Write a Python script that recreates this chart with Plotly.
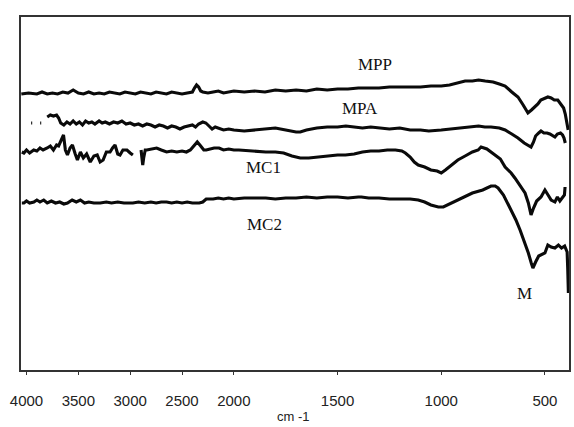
import plotly.graph_objects as go

# ---- data (wavenumber cm-1, relative transmittance, arbitrary offset units) ----
mpp_wn = [4050,3980,3900,3850,3800,3750,3700,3650,3600,3550,3500,3450,3400,3350,3300,3250,3200,3150,3100,3050,
          3000,2950,2900,2850,2800,2750,2700,2650,2600,2550,2500,2450,2400,2380,2360,2340,2320,2300,2250,2200,
          2150,2100,2050,2000,1950,1900,1850,1800,1750,1700,1650,1600,1550,1500,1450,1400,1350,1300,1250,1200,
          1150,1100,1050,1000,960,920,885,850,820,788,750,720,692,660,630,605,582,565,545,534,520,500,486,470,
          455,438,423,410,402,395,388]
mpp_t = [276,277,276,278,276,277,276,278,277,280,277,276,278,276,277,276,278,277,276,278,
         277,276,278,277,276,278,277,276,278,277,276,277,278,282,285,283,279,278,277,278,
         279,277,278,279,278,279,278,280,279,280,279,281,280,281,281,282,282,282,283,283,
         283,283,284,284,285,287,289,289,290,289,288,286,284,278,273,265,257,260,264,266,
         270,272,273,272,270,270,266,262,256,248,240]

mpa_dots_wn = [[3955, 3945], [3868, 3858]]
mpa_dots_t = [[247, 247], [247, 247]]

mpa_wn = [3800,3770,3740,3710,3690,3670,3640,3610,3580,3550,3520,3490,3460,3430,3400,3370,3340,3300,3270,3240,
          3200,3160,3120,3080,3040,3000,2960,2920,2880,2840,2800,2760,2720,2680,2640,2600,2560,2520,2480,2440,
          2400,2370,2340,2300,2270,2240,2210,2180,2150,2100,2050,2000,1950,1900,1850,1800,1750,1700,1680,1650,
          1600,1550,1500,1460,1420,1380,1340,1300,1250,1200,1150,1100,1060,1000,950,900,860,820,790,760,
          720,692,660,630,600,585,567,555,545,530,519,505,490,476,462,452,440,425,415,408,402]
mpa_t = [253,255,254,255,252,247,245,248,246,249,246,248,245,249,247,248,246,249,247,248,
         246,248,247,249,246,247,245,246,244,246,245,243,245,244,242,244,243,241,243,244,
         245,243,246,248,247,244,241,243,242,240,241,240,239,240,241,242,240,238,238,240,
         242,243,243,244,243,242,243,242,241,242,240,240,239,240,241,242,243,244,243,243,
         242,240,236,232,227,225,223,228,234,237,239,237,237,236,234,233,236,237,235,232,227]

mc1_wn = [4045,4025,4000,3970,3930,3900,3870,3840,3800,3770,3740,3710,3690,3660,3643,3625,3605,3580,3557,3530,
          3509,3480,3452,3420,3385,3350,3318,3290,3261,3230,3194,3170,3146,3120,3098,3070,3031,3000,2974,None,
          2895,2885,2879,2870,2855,2840,2800,2745,2700,2649,2600,2550,2500,2458,2420,2390,2353,2320,2290,2267,
          2230,2190,2143,2100,2050,2000,1976,1920,1880,1846,1800,1760,1720,1680,1639,1600,1550,1500,1462,1420,
          1380,1340,1300,1260,1221,1190,1173,1150,1130,1111,1080,1050,1020,1000,980,952,920,885,850,822,
          808,780,760,740,715,692,663,645,630,610,596,580,567,555,540,519,500,485,470,452,
          440,428,413,406,403]
mc1_t = [218,217,220,217,220,219,222,220,222,224,220,225,224,230,235,220,215,222,225,216,
         210,218,212,216,208,214,215,208,210,218,218,222,225,216,215,220,220,217,215,None,
         220,212,205,212,220,220,221,222,220,218,219,218,219,218,220,224,228,224,220,220,
         221,222,222,220,221,220,220,219,218,218,218,217,214,212,212,213,214,215,215,216,
         218,219,219,220,220,219,217,213,208,205,203,200,199,197,200,205,210,214,218,220,
         223,221,218,215,211,203,197,192,187,181,177,167,155,162,169,173,180,175,170,168,
         173,169,173,175,183]

mc2_wn = [4045,4025,4000,3970,3929,3900,3870,3834,3800,3760,3720,3680,3640,3605,3560,3520,3480,3440,3400,3350,
          3289,3230,3180,3120,3060,3000,2974,2920,2860,2800,2750,2700,2649,2600,2550,2500,2450,2400,2334,2300,
          2280,2267,2200,2150,2100,2050,2000,1950,1900,1846,1800,1750,1700,1650,1600,1550,1500,1450,1400,1385,
          1350,1300,1250,1200,1150,1111,1080,1050,1014,990,960,920,885,850,800,760,740,726,700,680,
          663,640,620,596,580,566,558,545,530,500,486,470,452,435,420,405,399,393,390,387]
mc2_t = [167,167,169,167,168,170,168,170,167,169,167,168,166,167,170,168,170,167,168,167,
         167,168,167,168,167,167,167,168,167,168,167,168,168,167,168,167,168,167,167,168,
         170,171,171,172,171,172,171,172,172,172,171,172,172,173,172,173,173,172,173,173,
         172,172,171,171,171,170,168,165,163,163,166,170,173,177,180,184,184,182,175,167,
         160,150,140,127,117,107,102,108,114,117,125,123,122,125,122,124,120,118,100,77]

label_names = ["MPP", "MPA", "MC1", "MC2", "M"]
label_wn = [1320, 1392, 1855, 1850, 600]
label_t = [306, 262, 203, 146, 77]

tick_wn = [4000, 3500, 3000, 2500, 2000, 1500, 1000, 500]
tick_text = ["4000", "3500", "3000", "2500", "2000", "1500", "1000", "500"]
x_limits = [4053, 384]
axis_title = "cm -1"


# FTIR chart uses a compressed scale above 2000 cm-1 (half the spacing)
def scale(w):
    if w is None:
        return None
    return w if w <= 2000 else 2000 + (w - 2000) / 2


def sc(arr):
    return [scale(w) for w in arr]


fig = go.Figure()
line_style = dict(color="#0a0a0a", width=3.1)

for xs, ys in [(mpp_wn, mpp_t), (mpa_wn, mpa_t), (mc1_wn, mc1_t), (mc2_wn, mc2_t)]:
    fig.add_trace(go.Scatter(x=sc(xs), y=ys, mode="lines", line=line_style,
                             connectgaps=False, showlegend=False, hoverinfo="skip"))
for xs, ys in zip(mpa_dots_wn, mpa_dots_t):
    fig.add_trace(go.Scatter(x=sc(xs), y=ys, mode="lines", line=line_style,
                             showlegend=False, hoverinfo="skip"))

for name, w, t in zip(label_names, label_wn, label_t):
    fig.add_annotation(x=scale(w), y=t, text=name, showarrow=False,
                       font=dict(family="Liberation Serif, Times New Roman, serif", size=17, color="#111111"),
                       xanchor="center", yanchor="middle")

fig.add_annotation(xref="paper", yref="paper", x=0.498, y=-0.133, text=axis_title, showarrow=False,
                   font=dict(family="Liberation Sans, Arial, sans-serif", size=13, color="#222222"),
                   xanchor="center", yanchor="middle")

xr = [scale(x_limits[0]), scale(x_limits[1])]
fig.update_layout(
    width=574, height=427,
    margin=dict(l=21, r=3, t=17, b=57),
    paper_bgcolor="white", plot_bgcolor="white",
    xaxis=dict(range=xr, tickvals=sc(tick_wn), ticktext=tick_text,
               showgrid=False, zeroline=False, showline=True, mirror=True,
               linecolor="#333333", linewidth=1.6,
               ticks="outside", ticklen=3, tickwidth=1.2, tickcolor="#333333",
               ticklabelstandoff=13,
               tickfont=dict(family="Liberation Sans, Arial, sans-serif", size=15, color="#222222")),
    xaxis2=dict(range=xr, overlaying="x", anchor="y", side="bottom",
                tickvals=sc(tick_wn), showticklabels=False, showgrid=False, zeroline=False,
                ticks="inside", ticklen=3, tickwidth=1.2, tickcolor="#333333", showline=False),
    yaxis=dict(range=[0, 353], showticklabels=False, ticks="", showgrid=False, zeroline=False,
               showline=True, mirror=True, linecolor="#333333", linewidth=1.6),
)

fig.write_html("out.html")
